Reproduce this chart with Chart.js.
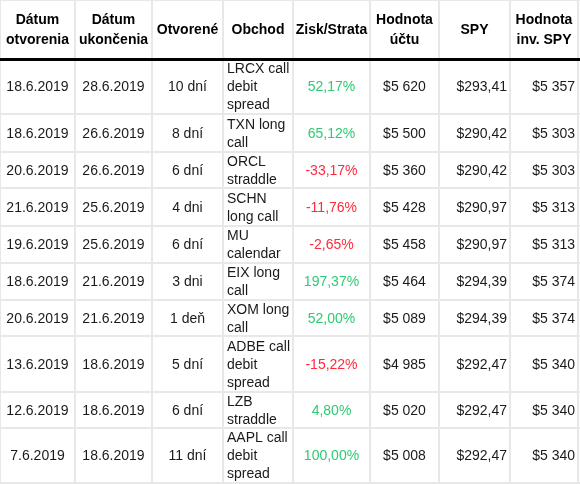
<!DOCTYPE html>
<html>
<head>
<meta charset="utf-8">
<script src="https://cdn.jsdelivr.net/npm/chart.js@4"></script>
<style>
  html, body { margin: 0; padding: 0; background: #fff; }
  #wrap { width: 580px; height: 484px; }
</style>
</head>
<body>
<div id="wrap"><canvas id="tbl" width="580" height="484"></canvas></div>
<script>
// ── table content ──
const headers = [
  ['Dátum', 'otvorenia'], ['Dátum', 'ukončenia'], ['Otvorené'], ['Obchod'],
  ['Zisk/Strata'], ['Hodnota', 'účtu'], ['SPY'], ['Hodnota', 'inv. SPY']
];
const openDates  = ['18.6.2019', '18.6.2019', '20.6.2019', '21.6.2019', '19.6.2019', '18.6.2019', '20.6.2019', '13.6.2019', '12.6.2019', '7.6.2019'];
const closeDates = ['28.6.2019', '26.6.2019', '26.6.2019', '25.6.2019', '25.6.2019', '21.6.2019', '21.6.2019', '18.6.2019', '18.6.2019', '18.6.2019'];
const durations  = ['10 dní', '8 dní', '6 dní', '4 dni', '6 dní', '3 dni', '1 deň', '5 dní', '6 dní', '11 dní'];
const trades = [
  'LRCX call\ndebit\nspread', 'TXN long\ncall', 'ORCL\nstraddle', 'SCHN\nlong call', 'MU\ncalendar',
  'EIX long\ncall', 'XOM long\ncall', 'ADBE call\ndebit\nspread', 'LZB\nstraddle', 'AAPL call\ndebit\nspread'
];
const pnl        = ['52,17%', '65,12%', '-33,17%', '-11,76%', '-2,65%', '197,37%', '52,00%', '-15,22%', '4,80%', '100,00%'];
const accountVal = ['$5 620', '$5 500', '$5 360', '$5 428', '$5 458', '$5 464', '$5 089', '$4 985', '$5 020', '$5 008'];
const spyPrice   = ['$293,41', '$290,42', '$290,42', '$290,97', '$290,97', '$294,39', '$294,39', '$292,47', '$292,47', '$292,47'];
const spyInv     = ['$5 357', '$5 303', '$5 303', '$5 313', '$5 313', '$5 374', '$5 374', '$5 340', '$5 340', '$5 340'];

// ── layout (grid edges in canvas units) ──
const colEdges = [0, 75, 152, 223, 293, 370, 439, 510, 578];
const rowEdges = [0, 59, 114, 152, 188, 226, 263, 300, 336, 392, 428, 483];
const colAlign = ['center', 'center', 'center', 'left', 'center', 'center', 'right', 'right'];
const HEADER_EDGE = 59;

const columns = [openDates, closeDates, durations, trades, pnl, accountVal, spyPrice, spyInv];

// cell centres, one point per cell (invisible, text drawn on top)
const cellPoints = [];
for (let r = 0; r < openDates.length; r++) {
  for (let c = 0; c < columns.length; c++) {
    cellPoints.push({
      x: (colEdges[c] + colEdges[c + 1]) / 2,
      y: (rowEdges[r + 1] + rowEdges[r + 2]) / 2,
      r: r, c: c
    });
  }
}

const tableText = {
  id: 'tableText',
  afterDatasetsDraw(chart) {
    const ctx = chart.ctx;
    const xs = chart.scales.x, ys = chart.scales.y;

    function drawCell(lines, c, yTop, yBot, lh, color, font, align) {
      const left = xs.getPixelForValue(colEdges[c]);
      const right = xs.getPixelForValue(colEdges[c + 1]);
      const mid = (ys.getPixelForValue(yTop) + ys.getPixelForValue(yBot)) / 2 + 1;
      let x = (left + right) / 2;
      if (align === 'left') x = left + 4;
      if (align === 'right') x = right - 3;
      ctx.font = font;
      ctx.fillStyle = color;
      ctx.textAlign = align;
      ctx.textBaseline = 'middle';
      const start = mid - (lines.length - 1) * lh / 2;
      lines.forEach((t, i) => ctx.fillText(t, x, start + i * lh));
    }

    ctx.save();
    headers.forEach((h, c) =>
      drawCell(h, c, rowEdges[0], rowEdges[1], 20, '#000', 'bold 14px "Liberation Sans", Arial, sans-serif', 'center'));

    const meta = chart.getDatasetMeta(0);
    meta.data.forEach((pt, i) => {
      const d = cellPoints[i];
      const raw = columns[d.c][d.r];
      let color = '#1a1a1a';
      if (d.c === 4) color = raw.startsWith('-') ? '#ff2a3c' : '#2ecb72';
      drawCell(raw.split('\n'), d.c, rowEdges[d.r + 1], rowEdges[d.r + 2], 18, color,
        '14px "Liberation Sans", Arial, sans-serif', colAlign[d.c]);
    });
    ctx.restore();
  }
};

new Chart(document.getElementById('tbl'), {
  type: 'scatter',
  data: {
    datasets: [{
      data: cellPoints,
      pointRadius: 0,
      pointHoverRadius: 0
    }]
  },
  options: {
    responsive: false,
    animation: false,
    events: [],
    layout: { padding: 0 },
    plugins: { legend: { display: false }, tooltip: { enabled: false } },
    scales: {
      x: {
        type: 'linear', min: 0, max: 580,
        afterBuildTicks: s => { s.ticks = colEdges.map(v => ({ value: v })); },
        ticks: { display: false, padding: 0 },
        border: { display: false },
        grid: { drawTicks: false, tickLength: 0, color: '#e8e8e8', lineWidth: 2 }
      },
      y: {
        type: 'linear', min: 0, max: 484, reverse: true,
        afterBuildTicks: s => { s.ticks = rowEdges.map(v => ({ value: v })); },
        ticks: { display: false, padding: 0 },
        border: { display: false },
        grid: {
          drawTicks: false, tickLength: 0,
          color: c => c.tick && c.tick.value === HEADER_EDGE ? '#000' : '#e8e8e8',
          lineWidth: c => c.tick && c.tick.value === HEADER_EDGE ? 3 : 2
        }
      }
    }
  },
  plugins: [tableText]
});
</script>
</body>
</html>
